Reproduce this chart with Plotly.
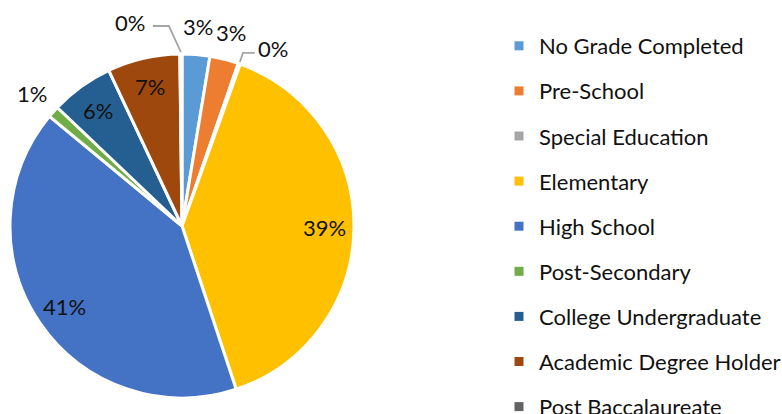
import math
import plotly.graph_objects as go

categories = ["No Grade Completed", "Pre-School", "Special Education", "Elementary",
              "High School", "Post-Secondary", "College Undergraduate",
              "Academic Degree Holder", "Post Baccalaureate"]
values = [2.6, 2.7, 0.2, 39.4, 41.1, 1.1, 5.9, 6.8, 0.2]
colors = ["#5B9BD5", "#ED7D31", "#A5A5A5", "#FFC000", "#4472C4",
          "#70AD47", "#255E91", "#9E480E", "#636363"]

W, H = 782, 414
CX, CY, R = 182, 226, 172
FONT = "Lato"
TXT = "#111111"
FS = 22

total = sum(values)

fig = go.Figure()
fig.add_trace(go.Pie(
    labels=categories, values=values, sort=False, direction="clockwise",
    rotation=0, marker=dict(colors=colors, line=dict(color="white", width=3)),
    textinfo="none", showlegend=False,
    domain=dict(x=[(CX - R) / W, (CX + R) / W], y=[(H - CY - R) / H, (H - CY + R) / H]),
    hoverinfo="label+percent",
))

# legend entries
for c, col in zip(categories, colors):
    fig.add_trace(go.Scatter(x=[None], y=[None], mode="markers", name=c, legendgroup=c,
                             marker=dict(symbol="square", size=9, color=col)))


def pt(theta_deg, rad):
    t = math.radians(theta_deg)
    return CX + rad * math.sin(t), CY - rad * math.cos(t)


def paper(x, y):
    return x / W, 1 - y / H


cum = 0
shapes, annots = [], []
for v in values:
    p = v / total
    mid = (cum + v / 2) / total * 360
    cum += v
    label = f"{round(p * 100)}%"
    if p < 0.005:
        # zero-percent callout with a leader line
        x0, y0 = pt(mid, R + 2)
        side = 1 if mid < 180 else -1
        if side > 0:
            x1, y1 = x0 + 3, y0 - 9
            x2 = x1 + 12
        else:
            x1, y1 = x0 - 12, y0 - 26
            x2 = x1 - 16
        p0, p1, p2 = paper(x0, y0), paper(x1, y1), paper(x2, y1)
        shapes.append(dict(type="path", xref="paper", yref="paper",
                           path=f"M {p0[0]},{p0[1]} L {p1[0]},{p1[1]} L {p2[0]},{p2[1]}",
                           line=dict(color="#A6A6A6", width=1.8)))
        tx = x2 + side * (1 if side > 0 else 6)
        ax, ay = paper(tx, y1 - 4)
        annots.append(dict(x=ax, y=ay, xref="paper", yref="paper", text=label,
                           showarrow=False, xanchor="left" if side > 0 else "right",
                           yanchor="middle", font=dict(family=FONT, size=FS, color=TXT)))
    else:
        rad = R + 28 if p < 0.045 else R * 0.83
        lx, ly = pt(mid, rad)
        ax, ay = paper(lx, ly)
        annots.append(dict(x=ax, y=ay, xref="paper", yref="paper", text=label,
                           showarrow=False, xanchor="center", yanchor="middle",
                           font=dict(family=FONT, size=FS, color=TXT)))

fig.update_layout(
    width=W, height=H, margin=dict(l=0, r=0, t=0, b=0, autoexpand=False),
    paper_bgcolor="white", plot_bgcolor="white",
    xaxis=dict(visible=False), yaxis=dict(visible=False),
    shapes=shapes, annotations=annots,
    legend=dict(x=499 / W, xanchor="left", y=1 - 25 / H, yanchor="top",
                font=dict(family=FONT, size=FS, color=TXT), tracegroupgap=13.5,
                bgcolor="rgba(0,0,0,0)", itemclick=False),
    showlegend=True,
)
fig.write_html("out.html", config={"displayModeBar": False},
               post_script="document.body.style.margin='0';document.body.style.overflow='hidden';")
